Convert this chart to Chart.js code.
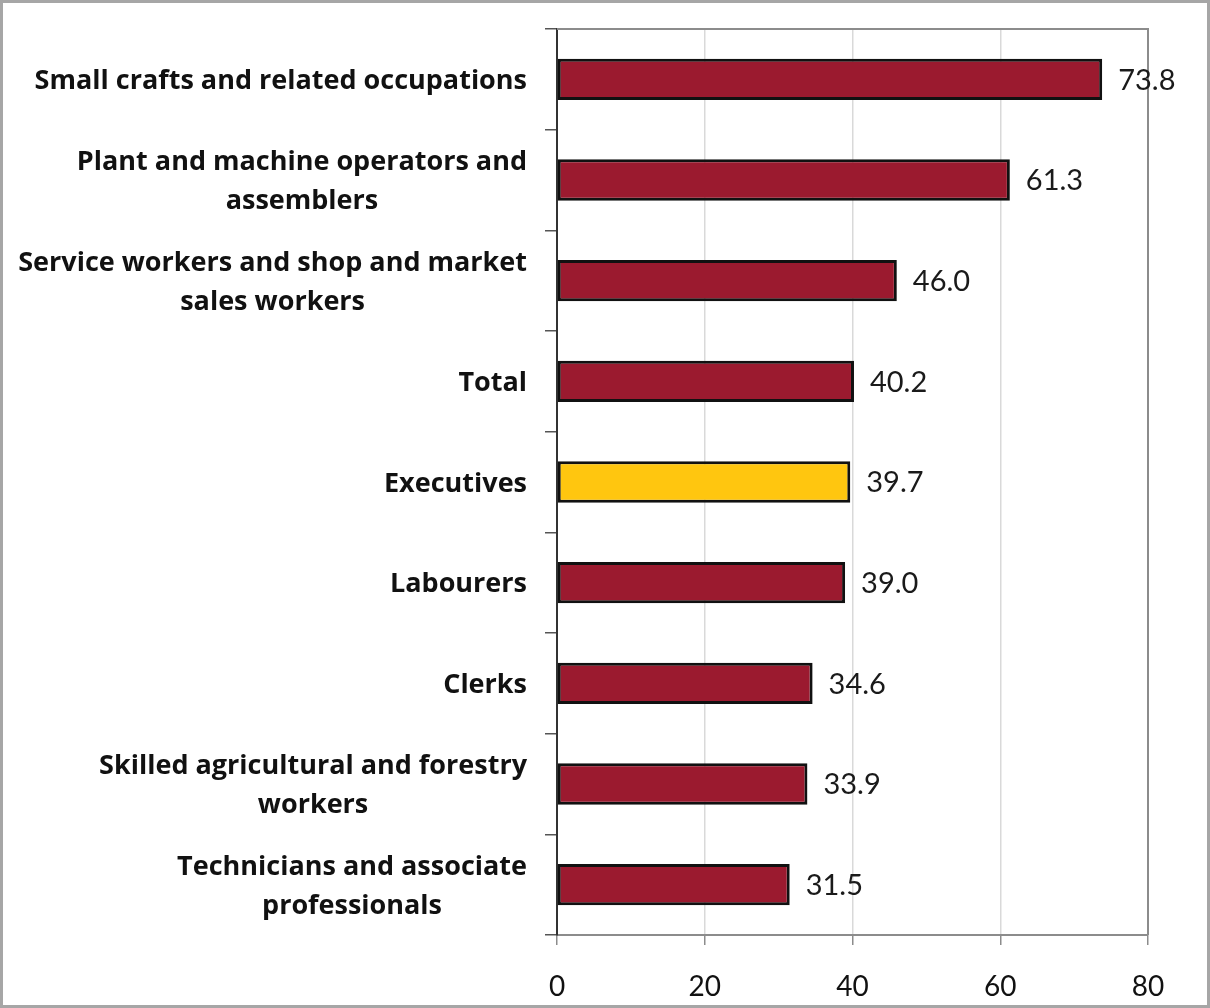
<!DOCTYPE html>
<html>
<head>
<meta charset="utf-8">
<script src="https://cdn.jsdelivr.net/npm/chart.js@4"></script>
<style>
  html, body { margin: 0; padding: 0; background: #fff; }
  #wrap { position: relative; width: 1210px; height: 1008px; }
</style>
</head>
<body>
<div id="wrap"><canvas id="chartOcc"></canvas></div>
<script>
// Data
const categories = [
  ["Small crafts and related occupations"],
  ["Plant and machine operators and", "assemblers"],
  ["Service workers and shop and market", "sales workers"],
  ["Total"],
  ["Executives"],
  ["Labourers"],
  ["Clerks"],
  ["Skilled agricultural and forestry", "workers"],
  ["Technicians and associate", "professionals"],
];
const values = [73.8, 61.3, 46.0, 40.2, 39.7, 39.0, 34.6, 33.9, 31.5];
const xTicks = [0, 20, 40, 60, 80];
const highlight = "Executives";

(function () {
  const COLORS = {
    bar:       "#9b1a2f",
    highlight: "#ffc60f",
    edge:      "#111111",
    grid:      "#d9d9d9",
    frame:     "#8c8c8c",
    axis:      "#333333",
    text:      "#111111",
  };
  const LABEL_FONT = "'Open Sans', sans-serif";
  const NUM_FONT = "Lato, 'Open Sans', sans-serif";

  const barColors = categories.map((c) => (c[0] === highlight ? COLORS.highlight : COLORS.bar));

  // draws outer frame, top/right plot border, category labels and value labels
  const decorations = {
    id: "decorations",
    afterDraw(chart) {
      const { ctx, chartArea } = chart;
      ctx.save();

      ctx.strokeStyle = "#a6a6a6";
      ctx.lineWidth = 3;
      ctx.strokeRect(1.5, 1.5, chart.width - 3, chart.height - 3);

      ctx.strokeStyle = COLORS.frame;
      ctx.lineWidth = 2;
      ctx.beginPath();
      ctx.moveTo(chartArea.left, chartArea.top);
      ctx.lineTo(chartArea.right, chartArea.top);
      ctx.lineTo(chartArea.right, chartArea.bottom);
      ctx.stroke();

      // category labels: block right aligned, lines centred within it
      const yScale = chart.scales.y;
      const lineH = 39;
      ctx.fillStyle = COLORS.text;
      ctx.font = "bold 27px " + LABEL_FONT;
      ctx.textBaseline = "middle";
      ctx.textAlign = "center";
      const right = chartArea.left - 30;
      categories.forEach((lines, i) => {
        const y = yScale.getPixelForTick(i) + 2;
        const w = Math.max(...lines.map((l) => ctx.measureText(l).width));
        const cx = right - w / 2;
        const y0 = y - ((lines.length - 1) * lineH) / 2;
        lines.forEach((l, j) => ctx.fillText(l, cx, y0 + j * lineH));
      });

      // value labels
      ctx.font = "29px " + NUM_FONT;
      ctx.textAlign = "left";
      ctx.fillStyle = "#1a1a1a";
      const meta = chart.getDatasetMeta(0);
      meta.data.forEach((bar, i) => {
        ctx.fillText(values[i].toFixed(1), bar.x + 16, bar.y + 1);
      });
      ctx.restore();
    },
  };

  new Chart(document.getElementById("chartOcc"), {
    type: "bar",
    data: {
      labels: categories.map((c) => c.join(" ")),
      datasets: [
        {
          data: values,
          backgroundColor: barColors,
          borderColor: COLORS.edge,
          borderWidth: 3,
          borderSkipped: false,
          barPercentage: 0.41,
          categoryPercentage: 1,
        },
      ],
    },
    options: {
      indexAxis: "y",
      responsive: true,
      maintainAspectRatio: false,
      animation: false,
      layout: { padding: { left: 0, top: 29, right: 62, bottom: 0 } },
      plugins: { legend: { display: false }, tooltip: { enabled: false } },
      scales: {
        x: {
          min: 0,
          max: 80,
          afterBuildTicks: (axis) => { axis.ticks = xTicks.map((v) => ({ value: v })); },
          afterFit: (axis) => { axis.height = 73; },
          grid: { color: COLORS.grid, lineWidth: 1.5, tickColor: COLORS.frame, tickLength: 10 },
          border: { color: COLORS.frame, width: 2 },
          ticks: { color: COLORS.text, font: { family: NUM_FONT, size: 28 }, padding: 25 },
        },
        y: {
          afterFit: (axis) => { axis.width = 557; },
          grid: { drawOnChartArea: false, offset: true, color: "#555", tickLength: 12, lineWidth: 1.5 },
          border: { color: COLORS.axis, width: 2 },
          ticks: { display: false },
        },
      },
    },
    plugins: [decorations],
  });
})();
</script>
</body>
</html>
